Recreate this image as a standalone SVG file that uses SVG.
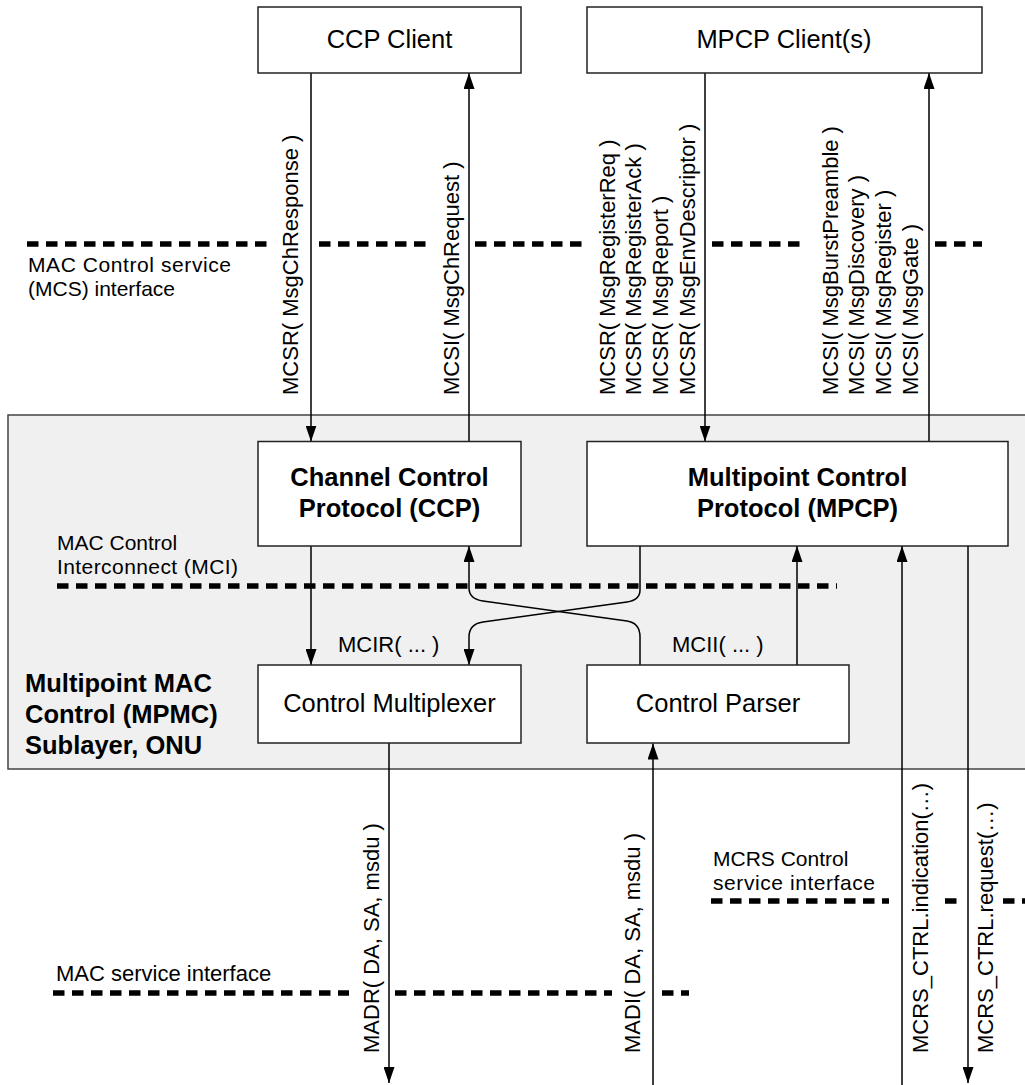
<svg xmlns="http://www.w3.org/2000/svg" width="1025" height="1085" viewBox="0 0 1025 1085">
<defs>
<marker id="arr" viewBox="0 0 16 11" refX="16" refY="5.5" markerWidth="16" markerHeight="11" orient="auto" markerUnits="userSpaceOnUse">
<path d="M0,0 L16,5.5 L0,11 z" fill="#000"/>
</marker>
<style>
.box{fill:#fff;stroke:#222;stroke-width:1.5}
.bt{font-family:"Liberation Sans",Arial,sans-serif;font-size:25.5px;fill:#000;text-anchor:middle}
.bb{font-weight:bold}
.lb{font-family:"Liberation Sans",Arial,sans-serif;font-size:22px;fill:#000}
.l2{font-family:"Liberation Sans",Arial,sans-serif;font-size:21px;fill:#000}
.dash{stroke:#000;stroke-width:5.5;stroke-dasharray:11.5 7.5;fill:none}
.ln{stroke:#000;stroke-width:1.5;fill:none}
.la{stroke:#000;stroke-width:1.5;fill:none;marker-end:url(#arr)}
</style>
</defs>
<g id="sublayer">
<rect x="8" y="415" width="1030" height="354" fill="#f0f0f0" stroke="#444" stroke-width="1.5"/>
<text class="lb bb" style="font-size:25.5px" x="25" y="692">Multipoint MAC</text>
<text class="lb bb" style="font-size:25.5px" x="25" y="723">Control (MPMC)</text>
<text class="lb bb" style="font-size:25.5px" x="25" y="754">Sublayer, ONU</text>
</g>
<g id="interfaces">
<path class="dash" d="M27,244H269M319,244H428M475,244H585M712,244H807M935,244H982"/>
<text class="l2" x="28" y="272" textLength="203">MAC Control service</text>
<text class="l2" x="28" y="296">(MCS) interface</text>
<path class="dash" d="M57,586H837"/>
<text class="l2" x="57" y="550">MAC Control</text>
<text class="l2" x="57" y="574" textLength="181">Interconnect (MCI)</text>
<path class="dash" d="M711,901H889M945,901H957M1003,901H1030"/>
<text class="l2" x="713" y="866">MCRS Control</text>
<text class="l2" x="713" y="890" textLength="162">service interface</text>
<path class="dash" d="M53,993H349M395,993H612M662,993H689"/>
<text class="lb" x="56" y="981">MAC service interface</text>
</g>
<g id="connectors">
<line class="la" x1="311" y1="73" x2="311" y2="441.5"/>
<line class="la" x1="469" y1="441.5" x2="469" y2="73"/>
<line class="la" x1="705" y1="73" x2="705" y2="441.5"/>
<line class="la" x1="929" y1="441.5" x2="929" y2="73"/>
<line class="la" x1="311" y1="546" x2="311" y2="665"/>
<line class="la" x1="797" y1="665" x2="797" y2="546"/>
<path class="la" d="M640,665V637Q640,623 627,621L483,601Q469,599 469,588V546"/>
<path class="la" d="M640,546V590Q640,600 627,602L483,622Q469,624 469,637V665"/>
<line class="la" x1="389" y1="743" x2="389" y2="1083"/>
<line class="la" x1="653" y1="1085" x2="653" y2="743.5"/>
<line class="la" x1="902" y1="1085" x2="902" y2="546"/>
<line class="la" x1="968" y1="546" x2="968" y2="1083"/>
<text class="lb" x="338" y="652">MCIR( ... )</text>
<text class="lb" x="672" y="652">MCII( ... )</text>
<text class="lb" transform="translate(297.5,395) rotate(-90)">MCSR( MsgChResponse )</text>
<text class="lb" transform="translate(459,395) rotate(-90)">MCSI( MsgChRequest )</text>
<text class="lb" transform="translate(614.5,395) rotate(-90)">MCSR( MsgRegisterReq )</text>
<text class="lb" transform="translate(641.3,395) rotate(-90)">MCSR( MsgRegisterAck )</text>
<text class="lb" transform="translate(668.1,395) rotate(-90)">MCSR( MsgReport )</text>
<text class="lb" transform="translate(694.9,395) rotate(-90)">MCSR( MsgEnvDescriptor )</text>
<text class="lb" transform="translate(837.5,395) rotate(-90)">MCSI( MsgBurstPreamble )</text>
<text class="lb" transform="translate(864.3,395) rotate(-90)">MCSI( MsgDiscovery )</text>
<text class="lb" transform="translate(891.1,395) rotate(-90)">MCSI( MsgRegister )</text>
<text class="lb" transform="translate(917.9,395) rotate(-90)">MCSI( MsgGate )</text>
<text class="lb" transform="translate(379,1053) rotate(-90)">MADR( DA, SA, msdu )</text>
<text class="lb" transform="translate(640,1053) rotate(-90)">MADI( DA, SA, msdu )</text>
<text class="lb" transform="translate(927.5,1053) rotate(-90)">MCRS_CTRL.indication(…)</text>
<text class="lb" transform="translate(993,1053) rotate(-90)">MCRS_CTRL.request(…)</text>
</g>
<g id="ccp-client">
<rect class="box" x="258" y="7" width="263" height="66"/>
<text class="bt" x="389.5" y="48">CCP Client</text>
</g>
<g id="mpcp-client">
<rect class="box" x="587" y="7" width="395" height="66"/>
<text class="bt" x="784" y="48">MPCP Client(s)</text>
</g>
<g id="ccp">
<rect class="box" x="258" y="441.5" width="263" height="104.5"/>
<text class="bt bb" x="389.5" y="486">Channel Control</text>
<text class="bt bb" x="389.5" y="516.5">Protocol (CCP)</text>
</g>
<g id="mpcp">
<rect class="box" x="587" y="441.5" width="421" height="104.5"/>
<text class="bt bb" x="797.5" y="486">Multipoint Control</text>
<text class="bt bb" x="797.5" y="516.5">Protocol (MPCP)</text>
</g>
<g id="control-mux">
<rect class="box" x="258" y="665" width="263" height="78"/>
<text class="bt" x="389.5" y="712">Control Multiplexer</text>
</g>
<g id="control-parser">
<rect class="box" x="587" y="665" width="262" height="78"/>
<text class="bt" x="718" y="712">Control Parser</text>
</g>
</svg>
